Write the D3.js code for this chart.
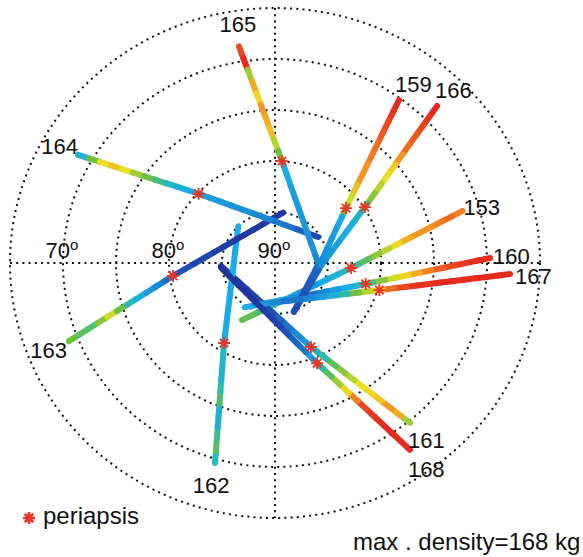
<!DOCTYPE html>
<html>
<head>
<meta charset="UTF-8" />
<style>
  body { margin: 0; background: #fff; }
  svg text { font-family: "Liberation Sans", Arial, sans-serif; fill: #111; }
  .grid { fill: none; stroke: #111; stroke-width: 2; stroke-dasharray: 2,4.2; }
  .orbit-label { font-size: 22px; }
</style>
<script src="https://d3js.org/d3.v7.min.js"></script>
</head>
<body>
<svg width="583" height="557"></svg>
<script>
// orbit numbers, in the order the tracks are listed below
var orbits = [153, 159, 160, 161, 162, 163, 164, 165, 166, 167, 168];

// track vertices [longitude, latitude] (deg), from the labelled end inwards
var trackPts = [
  [[73.9, 71.6], [93.9, 82.8], [209.1, 83.6]],
  [[36.2, 70.2], [51.2, 81.4], [92.7, 85.8], [159.5, 84.9]],
  [[88.6, 69.7], [103.5, 81.2], [213.3, 84.8]],
  [[140.9, 69.8], [157.6, 81.1], [266.7, 84.9]],
  [[196.1, 69.6], [211.5, 80.8], [316.1, 85.0]],
  [[248.5, 69.1], [262.5, 80.3], [8.8, 85.0]],
  [[299.7, 68.6], [313.3, 80.1], [57.9, 85.2]],
  [[350.9, 68.5], [3.8, 80.0], [91.4, 85.9], [159.5, 84.9]],
  [[44.8, 68.3], [57.1, 79.9], [92.5, 85.6], [159.5, 84.9]],
  [[92.8, 67.8], [105.1, 79.8], [204.6, 85.5]],
  [[145.2, 67.7], [158.0, 79.4], [264.5, 84.9]]
];

// periapsis positions
var periLon = [93.9, 51.2, 103.5, 157.6, 211.5, 262.5, 313.3, 3.8, 57.1, 105.1, 158.0];
var periLat = [82.8, 81.4, 81.2, 81.1, 80.8, 80.3, 80.1, 80.0, 79.9, 79.8, 79.4];

// density samples along each track (evenly spaced, labelled end first)
var density = [
  [135, 140, 135, 130, 130, 125, 115, 100, 90, 80, 72, 65, 60, 55, 50, 50, 55, 60, 70, 78, 82],
  [160, 155, 150, 145, 140, 135, 130, 130, 120, 105, 85, 55, 52, 50, 48, 45, 35, 32, 30, 28],
  [160, 158, 155, 150, 145, 135, 125, 115, 105, 90, 75, 62, 55, 50, 45, 40, 45, 50, 55, 55, 55],
  [95, 125, 130, 120, 115, 110, 100, 90, 80, 70, 62, 50, 45, 40, 35, 30, 28, 25, 22, 20, 20],
  [65, 80, 75, 60, 58, 78, 70, 60, 62, 65, 55, 55, 55, 55, 55, 55, 55, 55, 55, 55],
  [85, 80, 78, 90, 105, 85, 68, 58, 50, 45, 38, 30, 28, 25, 25, 22, 22, 20, 20, 20, 20, 20],
  [60, 85, 110, 120, 110, 95, 85, 75, 65, 58, 55, 52, 50, 50, 48, 48, 45, 45, 42, 40, 35, 25],
  [150, 160, 95, 125, 115, 130, 125, 120, 100, 85, 55, 55, 52, 50, 50, 50, 48, 48, 45, 35, 32, 30, 30],
  [158, 155, 150, 145, 140, 130, 118, 110, 100, 90, 78, 62, 58, 55, 52, 50, 48, 35, 32, 30, 28],
  [158, 160, 160, 160, 158, 158, 158, 155, 155, 150, 140, 115, 100, 85, 70, 58, 50, 45, 40, 40, 45, 50],
  [160, 160, 160, 158, 155, 150, 135, 115, 95, 80, 68, 50, 40, 35, 30, 25, 22, 20, 18, 18, 18, 18]
];

// label placement relative to the track start: [dx, dy, anchor]
var labelPos = [
  [1, 4, "start"], [-4, -8, "start"], [3, 6, "start"], [-2, 25, "start"],
  [-4, 30, "middle"], [-2, 17, "end"], [0, -1, "end"], [-1, -14, "middle"],
  [-2, -8, "start"], [5, 10, "start"], [-2, 27, "start"]
];

var ringLats = [85, 80, 75, 70, 65];
var ringLabels = [90, 80, 70];
var maxDensity = 168;

var svg = d3.select("svg"),
    cx = 275, cy = 263;

var rx = d3.scaleLinear().domain([90, 65]).range([0, 265]);
var ry = d3.scaleLinear().domain([90, 65]).range([0, 255]);

function proj(lon, lat) {
  var a = lon * Math.PI / 180;
  return [cx + rx(lat) * Math.sin(a), cy - ry(lat) * Math.cos(a)];
}

// jet-like colour map
var color = d3.scaleLinear()
  .domain([10, 30, 55, 70, 85, 112, 135, 158])
  .range(["#20238a", "#2050b8", "#18ace8", "#2cbcaa", "#70c040", "#f0e424", "#f28020", "#e62a1e"])
  .clamp(true);

// grid
var grid = svg.append("g");
grid.selectAll("ellipse")
  .data(ringLats)
  .enter().append("ellipse")
  .attr("class", "grid")
  .attr("cx", cx).attr("cy", cy)
  .attr("rx", function(d) { return rx(d); })
  .attr("ry", function(d) { return ry(d); });

[[270, 90], [0, 180]].forEach(function(p) {
  var a = proj(p[0], 65), b = proj(p[1], 65);
  grid.append("line").attr("class", "grid")
    .attr("x1", a[0]).attr("y1", a[1]).attr("x2", b[0]).attr("y2", b[1]);
});

var rl = grid.selectAll(".ring-label")
  .data(ringLabels)
  .enter().append("text")
  .attr("class", "ring-label")
  .attr("x", function(d) { return proj(270, d)[0] - 1; })
  .attr("y", cy - 5)
  .attr("text-anchor", "middle")
  .style("font-size", "22px");
rl.append("tspan").text(function(d) { return d; });
rl.append("tspan").attr("dy", -8).style("font-size", "15px").text("o");

// tracks
function pointAt(pts, cum, s) {
  for (var i = 1; i < pts.length; i++) {
    if (s <= cum[i] || i === pts.length - 1) {
      var t = (s - cum[i - 1]) / (cum[i] - cum[i - 1]);
      return [pts[i - 1][0] + t * (pts[i][0] - pts[i - 1][0]),
              pts[i - 1][1] + t * (pts[i][1] - pts[i - 1][1])];
    }
  }
}

var tracks = svg.append("g");
trackPts.forEach(function(track, k) {
  var pts = track.map(function(d) { return proj(d[0], d[1]); });
  var cum = [0];
  for (var i = 1; i < pts.length; i++) {
    cum.push(cum[i - 1] + Math.hypot(pts[i][0] - pts[i - 1][0], pts[i][1] - pts[i - 1][1]));
  }
  var L = cum[cum.length - 1], n = density[k].length;
  var segs = density[k].map(function(v, j) {
    var a = j * L / n, b = (j + 1) * L / n;
    var line = [pointAt(pts, cum, a)];
    for (var i = 1; i < pts.length - 1; i++) {
      if (cum[i] > a && cum[i] < b) line.push(pts[i]);
    }
    line.push(pointAt(pts, cum, b));
    return { v: v, line: line };
  });
  tracks.append("g").selectAll("path")
    .data(segs)
    .enter().append("path")
    .attr("d", function(d) { return d3.line()(d.line); })
    .attr("fill", "none")
    .attr("stroke", function(d) { return color(d.v); })
    .attr("stroke-width", 6)
    .attr("stroke-linecap", "round")
    .attr("stroke-linejoin", "round");
});

// periapsis markers
function star(r) {
  var d = "", s = r * Math.SQRT1_2;
  d += "M" + (-r) + ",0L" + r + ",0";
  d += "M0," + (-r) + "L0," + r;
  d += "M" + (-s) + "," + (-s) + "L" + s + "," + s;
  d += "M" + (-s) + "," + s + "L" + s + "," + (-s);
  return d;
}
svg.append("g").selectAll("path")
  .data(periLon)
  .enter().append("path")
  .attr("transform", function(d, i) { var p = proj(d, periLat[i]); return "translate(" + p[0] + "," + p[1] + ")"; })
  .attr("d", star(6))
  .attr("stroke", "#ea3424")
  .attr("stroke-width", 1.8);

// orbit labels
svg.append("g").selectAll("text")
  .data(orbits)
  .enter().append("text")
  .attr("class", "orbit-label")
  .attr("x", function(d, i) { return proj(trackPts[i][0][0], trackPts[i][0][1])[0] + labelPos[i][0]; })
  .attr("y", function(d, i) { return proj(trackPts[i][0][0], trackPts[i][0][1])[1] + labelPos[i][1]; })
  .attr("text-anchor", function(d, i) { return labelPos[i][2]; })
  .text(function(d) { return d; });

// legend
svg.append("path")
  .attr("transform", "translate(29,518)")
  .attr("d", star(6))
  .attr("stroke", "#ea3424")
  .attr("stroke-width", 2.6);
svg.append("text")
  .attr("x", 43).attr("y", 524)
  .style("font-size", "24px")
  .text("periapsis");

svg.append("text")
  .attr("x", 353).attr("y", 550)
  .style("font-size", "24px")
  .text("max . density=" + maxDensity + " kg");
</script>
</body>
</html>
